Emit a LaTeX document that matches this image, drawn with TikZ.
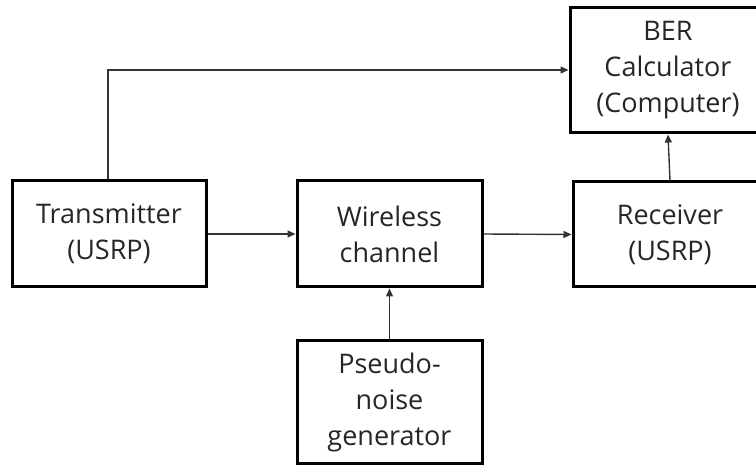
\documentclass[tikz,border=0pt]{standalone}
\usepackage{fontspec}
\setmainfont{Open Sans}
\usetikzlibrary{arrows.meta}
\begin{document}
\begin{tikzpicture}[x=1pt,y=-1pt,
  blockbox/.style={draw=black, line width=3pt, rectangle, inner sep=0pt,
    align=center, font=\fontsize{27}{36}\selectfont, text=black!85},
  link/.style={draw=black!80, line width=1.4pt, -{Triangle[length=8pt,width=7pt]}}]
  \useasboundingbox (0,0) rectangle (756,465);
  \node[blockbox, minimum width=194pt, minimum height=106pt] (tx) at (109,234) {Transmitter\\(USRP)};
  \node[blockbox, minimum width=185pt, minimum height=106pt] (ch) at (389.5,234) {Wireless\\channel};
  \node[blockbox, minimum width=194pt, minimum height=105pt] (rx) at (670,234.5) {Receiver\\(USRP)};
  \node[blockbox, minimum width=196pt, minimum height=125pt] (ber) at (668,70.5) {BER\\Calculator\\(Computer)};
  \node[blockbox, minimum width=185pt, minimum height=122pt] (pn) at (389.5,402) {Pseudo-\\noise\\generator};
  \coordinate (bend) at (108,70);
  \draw[link] (tx.east) -- (ch.west);
  \draw[link] (ch.east) -- (rx.west);
  \draw[link] (rx.north) -- (ber.south);
  \draw[link] (pn.north) -- (ch.south);
  \draw[link] (tx.north -| bend) -- (bend) -- (bend -| ber.west);
\end{tikzpicture}
\end{document}
